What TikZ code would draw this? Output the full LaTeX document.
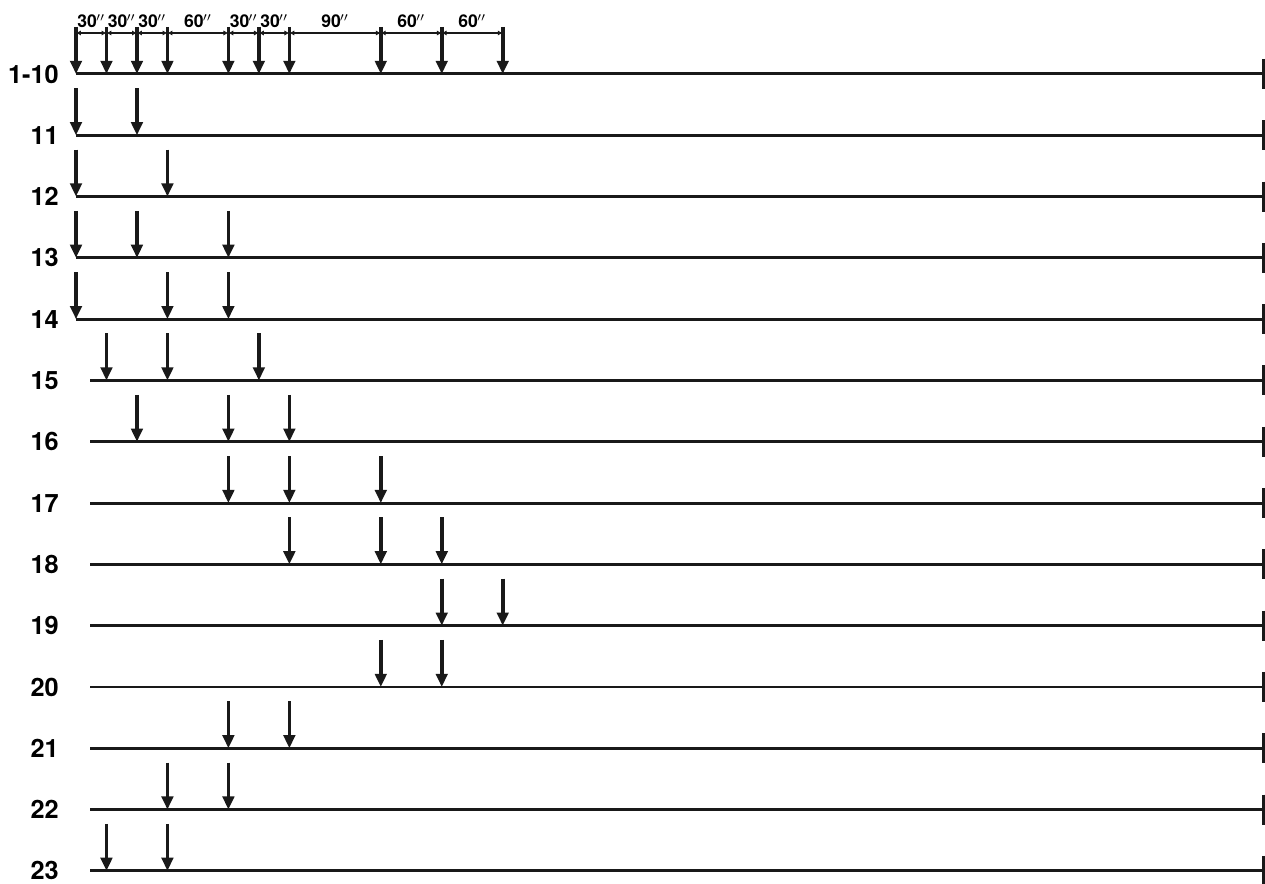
\documentclass[tikz,border=0pt]{standalone}
\usepackage{fontspec}
\setmainfont{TeX Gyre Heros}
\usetikzlibrary{arrows.meta, calc}
\tikzset{
  %% Time line of one run
  runline/.style={draw=black!90, line width=1.7pt},
  %% Stop mark at the right end
  endbar/.style={draw=black!90, line width=1.7pt},
  %% Stimulus arrow
  hit/.style={-{Triangle[length=7.5pt,width=6.5pt]},
              draw=black!90, line width=2.1pt},
  %% Interval on the dimension line
  dimseg/.style={{Latex[length=2.8pt,width=3pt]}-{Latex[length=2.8pt,width=3pt]},
                 draw=black!90, line width=1.1pt},
  runlbl/.style={anchor=east, font=\Large\bfseries, inner sep=0pt},
  dimlbl/.style={font=\normalsize\bfseries, inner sep=0pt},
}

\begin{document}
\begin{tikzpicture}[x=0.02cm, y=-0.02cm]

  \useasboundingbox (0,0) rectangle (1265,884);

  %% Dimension line with the intervals (seconds)
  \foreach \t in {0,30,60,90,150,180,210,300,360,420}
    \coordinate (d\t) at ({76+1.016*\t},33);
  \foreach \a/\b/\lbl in {0/30/30, 30/60/30, 60/90/30, 90/150/60, 150/180/30,
                          180/210/30, 210/300/90, 300/360/60, 360/420/60}
  {
    \draw[dimseg] (d\a) -- (d\b);
    \node[dimlbl] (dl\a) at ($(d\a)!0.5!(d\b)+(0,-12)$) {\lbl\kern-0.5pt$''$};
  }

  %% Runs: row / label / start of line / stimulus times
  \foreach \r/\lbl/\xs/\hits in {
      0/1-10/76/{0,30,60,90,150,180,210,300,360,420},
      1/11/76/{0,60},
      2/12/76/{0,90},
      3/13/76/{0,60,150},
      4/14/76/{0,90,150},
      5/15/90/{30,90,180},
      6/16/90/{60,150,210},
      7/17/90/{150,210,300},
      8/18/90/{210,300,360},
      9/19/90/{360,420},
      10/20/90/{300,360},
      11/21/90/{150,210},
      12/22/90/{90,150},
      13/23/90/{30,90}}
  {
    \coordinate (r\r-s) at (\xs,{74+61.3*\r});
    \coordinate (r\r-e) at (1263,{74+61.3*\r});
    \node[runlbl] (lbl\r) at (59,{74+61.3*\r}) {\lbl};
    \draw[runline] (r\r-s) -- (r\r-e);
    \draw[endbar] (r\r-e) ++(0,-15) -- ++(0,30);
    \foreach \t in \hits {
      \coordinate (h\r-\t) at ({76+1.016*\t},{74+61.3*\r});
      \draw[hit] (h\r-\t) ++(0,-47) -- (h\r-\t);
    }
  }

\end{tikzpicture}
\end{document}
